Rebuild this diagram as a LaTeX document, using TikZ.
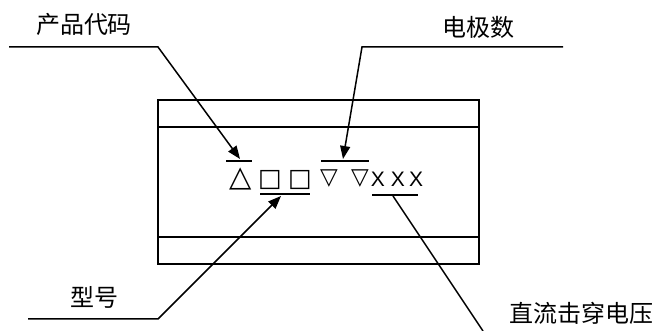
\documentclass[tikz,border=0pt]{standalone}
\usepackage{fontspec}
\setmainfont{Liberation Sans}
\newfontfamily\cjk{Noto Sans CJK SC}
\newfontfamily\symf{DejaVu Sans}
\usetikzlibrary{arrows.meta}
\tikzset{
  lbl/.style={font=\cjk\fontsize{24}{24}\selectfont, inner sep=0pt, anchor=center},
  sym/.style={font=\symf\fontsize{#1}{#1}\selectfont, inner sep=0pt, anchor=center},
  xch/.style={font=\fontsize{21}{21}\selectfont, inner sep=0pt, anchor=center},
  leader/.style={line width=1.5pt, draw=black},
  tipped/.style={line width=1.5pt, draw=black, -{Triangle[length=13pt,width=10pt]}},
  bar/.style={line width=2pt, draw=black},
  frame/.style={line width=1.4pt, draw=black}
}
\begin{document}
\begin{tikzpicture}[x=1pt,y=1pt]
\useasboundingbox (0,0) rectangle (662,331);
% box
\draw[frame] (158,67) rectangle (479,231);
\draw[frame] (158,204) -- (479,204);
\draw[frame] (158,94) -- (479,94);
% labels
\node[lbl] (pc) at (84,307) {产品代码};
\node[lbl] (dj) at (478,304) {电极数};
\node[lbl] (xh) at (94,34) {型号};
\node[lbl] (zl) at (581,18) {直流击穿电压};
% symbols
\node[sym=29] (s1) at (241,152) {△};
\node[sym=25] (s2) at (270,151) {□};
\node[sym=25] (s3) at (300,151) {□};
\node[sym=23] (s4) at (329,152) {▽};
\node[sym=23] (s5) at (360,152) {▽};
\node[xch] (x1) at (378,152) {X};
\node[xch] (x2) at (398,152) {X};
\node[xch] (x3) at (416,152) {X};
% bars
\coordinate (b1l) at (226,170); \coordinate (b1r) at (252,170);
\coordinate (b2l) at (260,137); \coordinate (b2r) at (310,137);
\coordinate (b3l) at (321,170); \coordinate (b3r) at (369,170);
\coordinate (b4l) at (372,136); \coordinate (b4r) at (418,136);
\draw[bar] (b1l) -- (b1r);
\draw[bar] (b2l) -- (b2r);
\draw[bar] (b3l) -- (b3r);
\draw[bar] (b4l) -- (b4r);
% leaders
\coordinate (p1) at (9,284); \coordinate (p1k) at (158,284); \coordinate (t1) at (240,172);
\coordinate (p2) at (563,284); \coordinate (p2k) at (362,284); \coordinate (t2) at (343,172);
\coordinate (p3) at (28,12); \coordinate (p3k) at (158,12); \coordinate (t3) at (281,135);
\coordinate (p4) at (393,135); \coordinate (p4e) at (483,0);
\draw[tipped] (p1) -- (p1k) -- (t1);
\draw[tipped] (p2) -- (p2k) -- (t2);
\draw[tipped] (p3) -- (p3k) -- (t3);
\draw[leader] (p4) -- (p4e);
\end{tikzpicture}
\end{document}
